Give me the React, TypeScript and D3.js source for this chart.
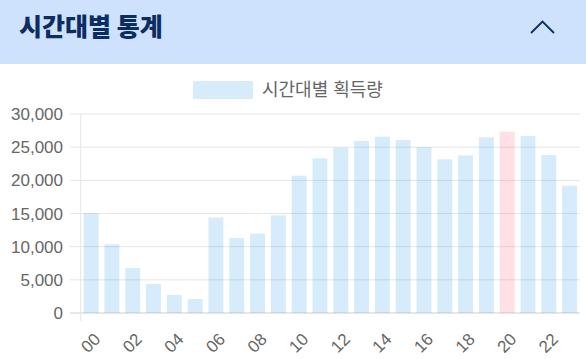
import React from "react";
import * as d3 from "d3";

const hours = ["00","01","02","03","04","05","06","07","08","09","10","11","12","13","14","15","16","17","18","19","20","21","22","23"];
const counts = [15050, 10350, 6780, 4370, 2710, 2110, 14370, 11300, 11960, 14720, 20700, 23320, 24920, 25930, 26580, 26080, 25020, 23170, 23770, 26480, 27330, 26680, 23820, 19190];
const highlightHour = "20";
const yTicks = [0, 5000, 10000, 15000, 20000, 25000, 30000];
const seriesLabel = "시간대별 획득량";
const title = "시간대별 통계";

const W = 586;
const H = 359;
const margin = { left: 80.7, right: 6, top: 114, bottom: 46 };

const blue = "rgba(54,162,235,0.2)";
const pink = "rgba(255,99,132,0.2)";

export default function App() {
  const x = d3
    .scaleBand<string>()
    .domain(hours)
    .range([margin.left, W - margin.right])
    .paddingInner(0)
    .paddingOuter(0);
  const y = d3.scaleLinear().domain([0, 30000]).range([H - margin.bottom, margin.top]);
  const fmt = d3.format(",");
  const bw = x.bandwidth() * 0.72;
  const font = "'Liberation Sans', Arial, 'Noto Sans CJK KR', sans-serif";

  return (
    <div style={{ position: "absolute", left: 0, top: 0 }}>
      <svg width={W} height={H} style={{ display: "block" }}>
        <rect width={W} height={H} fill="#fff" />
        {/* header */}
        <rect width={W} height={64} fill="#cfe2fd" />
        <text
          x={19}
          y={36}
          fontFamily="'Noto Sans CJK KR', sans-serif"
          fontWeight={900}
          fontSize={25}
          fill="#0c2d62"
        >
          {title}
        </text>
        <path d="M531,33 L542.5,21.5 L554,33" fill="none" stroke="#0c2d62" strokeWidth={1.8} />

        {/* legend */}
        <rect x={193} y={81} width={60} height={18} fill={blue} />
        <text x={262} y={96} fontFamily={font} fontSize={18} fill="#666">
          {seriesLabel}
        </text>

        {/* grid */}
        {yTicks.map((t) => (
          <g key={t}>
            <line
              x1={70}
              x2={W - margin.right}
              y1={y(t)}
              y2={y(t)}
              stroke={t === 0 ? "#cfcfcf" : "#e5e5e5"}
              strokeWidth={1}
            />
            <text
              x={63}
              y={y(t)}
              dy="0.36em"
              textAnchor="end"
              fontFamily={font}
              fontSize={17}
              fill="#666"
            >
              {fmt(t)}
            </text>
          </g>
        ))}
        <line x1={margin.left} x2={margin.left} y1={margin.top} y2={y(0) + 8} stroke="#e5e5e5" />

        {/* bars */}
        {hours.map((h, i) => {
          const cx = (x(h) as number) + x.bandwidth() / 2;
          return (
            <rect
              key={h}
              x={cx - bw / 2}
              y={y(counts[i])}
              width={bw}
              height={y(0) - y(counts[i])}
              fill={h === highlightHour ? pink : blue}
            />
          );
        })}

        {/* x labels */}
        {hours
          .filter((_, i) => i % 2 === 0)
          .map((h) => {
            const cx = (x(h) as number) + x.bandwidth() / 2;
            return (
              <text
                key={h}
                transform={`translate(${cx + 6},${y(0) + 23}) rotate(-45)`}
                textAnchor="end"
                dy="0.36em"
                fontFamily={font}
                fontSize={17}
                fill="#666"
              >
                {h}
              </text>
            );
          })}
      </svg>
    </div>
  );
}
